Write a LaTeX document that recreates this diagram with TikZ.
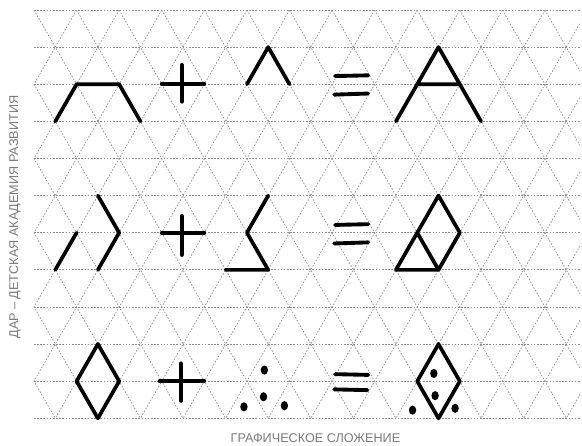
\documentclass[tikz,border=0pt]{standalone}
\usepackage{fontspec}
\setmainfont{Liberation Sans}
\usetikzlibrary{positioning}
\definecolor{gridgrey}{HTML}{8C8C8C}
\definecolor{textgrey}{HTML}{7A7A7A}

\begin{document}
\begin{tikzpicture}[x=0.8516cm, y=-0.7424cm,
    gridline/.style={gridgrey, line width=0.4pt, dash pattern=on 0.9pt off 0.9pt},
    stroke/.style={black, line width=2.1pt, line cap=round, line join=round},
    sign/.style={black, line width=2.2pt, line cap=round},
    blot/.style={black},
    caption/.style={textgrey, font=\fontsize{7.2}{8}\selectfont, inner sep=0pt}]
  \useasboundingbox (-0.7985,-0.2694) rectangle (12.870,11.719);
  \foreach \r in {0,...,11} \draw[gridline] (0,\r) -- (12.82,\r);
  \begin{scope}
    \clip (0,0) rectangle (12.82,11);
    \foreach \k in {-6,...,19} {
      \draw[gridline] (\k,0) -- ++(5.5,11);
      \draw[gridline] (\k,0) -- ++(-5.5,11);
    }
  \end{scope}
  % first row
  \draw[stroke] (0.5,3) -- (1,2) -- (2,2) -- (2.5,3);
  \draw[sign] (3,2) -- (4,2) (3.47,1.48) -- (3.47,2.47);
  \draw[stroke] (5,2) -- (5.5,1) -- (6,2);
  \draw[sign] (7.07,1.78) -- (7.85,1.76) (7.05,2.28) -- (7.85,2.25);
  \draw[stroke] (8.5,3) -- (9.5,1) -- (10.5,3) (9,2) -- (10,2);
  % second row
  \draw[stroke] (0.5,7) -- (1,6) (1.5,5) -- (2,6) -- (1.5,7);
  \draw[sign] (3,6) -- (4,6) (3.47,5.55) -- (3.47,6.6);
  \draw[stroke] (5.5,5) -- (5,6) -- (5.5,7) -- (4.5,7);
  \draw[sign] (7.07,5.79) -- (7.85,5.77) (7.05,6.29) -- (7.85,6.26);
  \draw[stroke] (9.5,5) -- (10,6) -- (9.5,7) -- (8.5,7) -- (9,6) -- cycle (9,6) -- (9.5,7);
  % third row
  \draw[stroke] (1.5,9) -- (2,10) -- (1.5,11) -- (1,10) -- cycle;
  \draw[sign] (2.95,10) -- (4,10) (3.45,9.52) -- (3.45,10.53);
  \foreach \p in {(5.41,9.70),(5.39,10.42),(4.93,10.69),(5.88,10.66)}
    \fill[blot] \p ellipse [x radius=2.1pt, y radius=2.6pt];
  \draw[sign] (7.07,9.81) -- (7.85,9.83) (7.05,10.22) -- (7.83,10.24);
  \draw[stroke] (9.5,9) -- (10,10) -- (9.5,11) -- (9,10) -- cycle;
  \foreach \p in {(9.39,9.79),(9.42,10.39),(8.89,10.78),(9.89,10.73)}
    \fill[blot] \p ellipse [x radius=2.1pt, y radius=2.6pt];
  \node[caption, rotate=90] (academy) at (-0.446,5.58) {ДАР – ДЕТСКАЯ АКАДЕМИЯ РАЗВИТИЯ};
  \node[caption] (title) at (6.61,11.53) {ГРАФИЧЕСКОЕ СЛОЖЕНИЕ};
\end{tikzpicture}
\end{document}
